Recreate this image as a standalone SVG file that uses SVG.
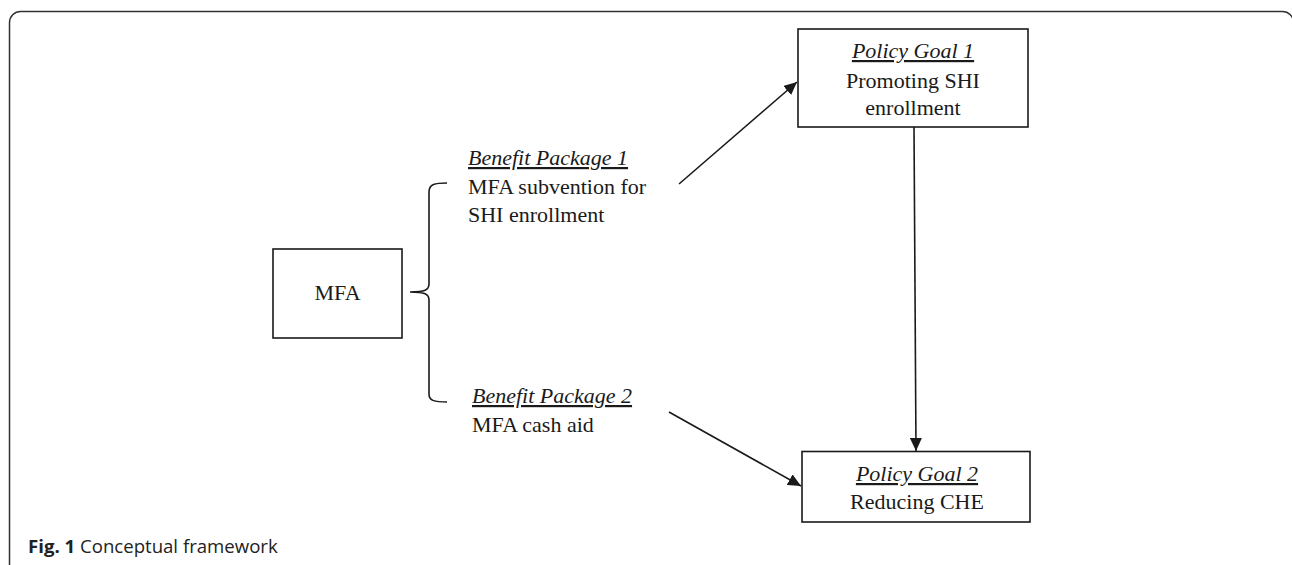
<svg xmlns="http://www.w3.org/2000/svg" width="1292" height="565" viewBox="0 0 1292 565">
<defs>
<style>
.box{fill:#fff;stroke:#1a1a1a;stroke-width:1.6}
.t{font-family:"Liberation Serif","Times New Roman",serif;font-size:22px;fill:#1a1a1a}
.i{font-style:italic;text-decoration:underline}
.c{text-anchor:middle}
.ln{fill:none;stroke:#1a1a1a;stroke-width:1.6}
.cap{font-family:"Open Sans","Noto Sans",sans-serif;font-size:18.6px;fill:#222}
</style>
<marker id="ah" markerUnits="userSpaceOnUse" markerWidth="14" markerHeight="12" refX="13" refY="6" orient="auto">
<path d="M0,0 L13,6 L0,12 Z" fill="#1a1a1a"/>
</marker>
</defs>
<rect width="1292" height="565" fill="#fff"/>
<rect x="9.5" y="11.5" width="1284" height="620" rx="11" ry="11" fill="none" stroke="#333" stroke-width="1.5"/>

<g id="mfa">
<rect class="box" x="273" y="249" width="129" height="89"/>
<text class="t c" x="337.5" y="300">MFA</text>
</g>

<g id="brace">
<path class="ln" d="M447,183 C435,183 429,184 429,192 L429,284 C429,290 425,292 410,292 C425,292 429,294 429,300 L429,394 C429,401 435,402 447,402"/>
</g>

<g id="bp1">
<text class="t i" x="468" y="165">Benefit Package 1</text>
<text class="t" x="468" y="193.5">MFA subvention for</text>
<text class="t" x="468" y="222">SHI enrollment</text>
</g>

<g id="bp2">
<text class="t i" x="472" y="403">Benefit Package 2</text>
<text class="t" x="472" y="432">MFA cash aid</text>
</g>

<g id="pg1">
<rect class="box" x="798" y="29" width="230" height="98"/>
<text class="t i c" x="913" y="58">Policy Goal 1</text>
<text class="t c" x="913" y="88">Promoting SHI</text>
<text class="t c" x="913" y="115">enrollment</text>
</g>

<g id="pg2">
<rect class="box" x="802" y="451.5" width="228" height="70.5"/>
<text class="t i c" x="917" y="481">Policy Goal 2</text>
<text class="t c" x="917" y="509">Reducing CHE</text>
</g>

<g id="connectors">
<line class="ln" x1="679" y1="184" x2="797" y2="82" marker-end="url(#ah)"/>
<line class="ln" x1="669" y1="412" x2="801" y2="486" marker-end="url(#ah)"/>
<line class="ln" x1="914" y1="127" x2="916" y2="451" marker-end="url(#ah)"/>
</g>

<text class="cap" x="28" y="553"><tspan font-weight="bold">Fig. 1</tspan> Conceptual framework</text>
</svg>
